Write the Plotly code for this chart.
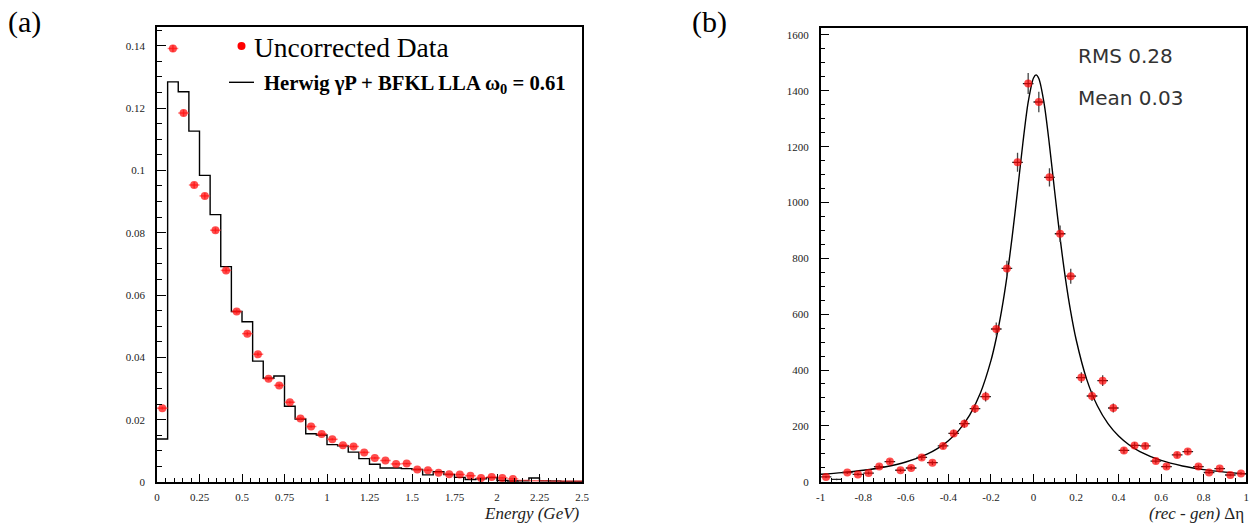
import numpy as np
import plotly.graph_objects as go

# ---------------- Panel (a): energy distribution ----------------
energy_edges = np.linspace(0.0, 2.5, 41)           # 40 bins of 0.0625 GeV
energy_centers = 0.5 * (energy_edges[:-1] + energy_edges[1:])

data_a = [0.0237, 0.1391, 0.1184, 0.0953, 0.0918, 0.0808, 0.0679, 0.0547,
          0.0476, 0.0410, 0.0331, 0.0310, 0.0256, 0.0204, 0.0178, 0.0154,
          0.0137, 0.0118, 0.0114, 0.0095, 0.0077, 0.0069, 0.0058, 0.0059,
          0.0040, 0.0038, 0.0030, 0.0025, 0.0024, 0.0020, 0.0013, 0.0016,
          0.0013, 0.0010, 0.0005, 0.0004, 0.0004, 0.0003, 0.0003, 0.0003]

err_a = [0.00046, 0.00112, 0.00103, 0.00093, 0.00091, 0.00085, 0.00078, 0.00070,
         0.00065, 0.00061, 0.00055, 0.00053, 0.00048, 0.00043, 0.00040, 0.00037,
         0.00035, 0.00033, 0.00032, 0.00029, 0.00026, 0.00025, 0.00023, 0.00023,
         0.00019, 0.00018, 0.00016, 0.00015, 0.00015, 0.00013, 0.00011, 0.00012,
         0.00011, 0.00010, 0.00006, 0.00006, 0.00006, 0.00006, 0.00006, 0.00006]

herwig_a = [0.0138, 0.1284, 0.1252, 0.1126, 0.0984, 0.0858, 0.0691, 0.0547,
            0.0514, 0.0388, 0.0333, 0.0340, 0.0243, 0.0202, 0.0155, 0.0151,
            0.0120, 0.0116, 0.0096, 0.0075, 0.0057, 0.0045, 0.0045, 0.0043,
            0.0040, 0.0023, 0.0033, 0.0024, 0.0015, 0.0008, 0.0010, 0.0014,
            0.0005, 0.0003, 0.0004, 0.0013, 0.0004, 0.0003, 0.0002, 0.0002]

# ---------------- Panel (b): (rec - gen) delta eta ----------------
deta_edges = np.linspace(-1.0, 1.0, 41)            # 40 bins of 0.05
deta_centers = 0.5 * (deta_edges[:-1] + deta_edges[1:])

counts_b = [17, 8, 33, 26, 31, 54, 72, 41, 49, 87,
            68, 128, 173, 208, 262, 305, 547, 764, 1144, 1426,
            1360, 1090, 888, 736, 373, 307, 362, 264, 112, 130,
            128, 74, 54, 96, 108, 54, 33, 47, 24, 29]

fit_x = [-1.0, -0.9, -0.8, -0.7, -0.6, -0.5, -0.45, -0.4, -0.35, -0.3, -0.25,
         -0.2, -0.175, -0.15, -0.125, -0.1, -0.075, -0.05, -0.025, 0.0, 0.012,
         0.025, 0.05, 0.075, 0.1, 0.125, 0.15, 0.175, 0.2, 0.25, 0.3, 0.35,
         0.4, 0.45, 0.5, 0.6, 0.7, 0.8, 0.9, 1.0]
fit_y = [26.6, 32.6, 40.9, 52.8, 70.5, 98.7, 119.4, 147.0, 184.9, 238.4, 316.5,
         433.6, 513.7, 612.7, 733.8, 878.4, 1042.6, 1212.3, 1359.3, 1446.1, 1457.0,
         1444.2, 1354.3, 1205.7, 1035.8, 872.2, 728.5, 608.3, 510.2, 366.6, 272.1, 208.2,
         163.6, 131.6, 107.9, 76.1, 56.4, 43.4, 34.4, 27.9]

x_ticks_b = [-1, -0.8, -0.6, -0.4, -0.2, 0, 0.2, 0.4, 0.6, 0.8, 1]
x_ticktext_b = ["-1", "-0.8", "-0.6", "-0.4", "-0.2", "0", "0.2", "0.4", "0.6", "0.8", "1"]

SERIF = "Liberation Serif, Times New Roman, serif"
SANS = "DejaVu Sans, sans-serif"

# marker visibility (bins with tiny content show error bars only)
size_a = [8 if v >= 0.0008 else 0 for v in data_a]
size_b = [8 if c >= 15 else 0 for c in counts_b]

fig = go.Figure()

# (a) Herwig step histogram
fig.add_trace(go.Scatter(
    x=list(energy_edges), y=list(herwig_a) + [herwig_a[-1]],
    mode="lines", line=dict(color="black", width=1.4, shape="hv"),
    xaxis="x", yaxis="y", showlegend=False, hoverinfo="skip"))

# (a) data error bars (below markers)
fig.add_trace(go.Scatter(
    x=energy_centers, y=data_a, mode="markers",
    marker=dict(color="rgba(0,0,0,0)", size=1),
    error_x=dict(type="constant", value=0.03125, color="rgba(255,60,60,0.7)",
                 thickness=1.5, width=0),
    error_y=dict(type="data", array=err_a, color="rgba(255,60,60,0.7)",
                 thickness=1.5, width=0),
    xaxis="x", yaxis="y", showlegend=False, hoverinfo="skip"))
# (a) data markers
fig.add_trace(go.Scatter(
    x=energy_centers, y=data_a, mode="markers",
    marker=dict(color="#ff0000", size=size_a, line=dict(width=0)),
    xaxis="x", yaxis="y", showlegend=False))

# (b) fit curve
fig.add_trace(go.Scatter(
    x=fit_x, y=fit_y, mode="lines",
    line=dict(color="black", width=1.4, shape="spline", smoothing=0.8),
    xaxis="x2", yaxis="y2", showlegend=False, hoverinfo="skip"))

# (b) error bars
fig.add_trace(go.Scatter(
    x=deta_centers, y=counts_b, mode="markers",
    marker=dict(color="rgba(0,0,0,0)", size=1),
    error_x=dict(type="constant", value=0.025, color="#222222", thickness=1.3, width=0),
    error_y=dict(type="data", array=np.sqrt(counts_b), color="#444444",
                 thickness=1.3, width=0),
    xaxis="x2", yaxis="y2", showlegend=False, hoverinfo="skip"))
# (b) markers
fig.add_trace(go.Scatter(
    x=deta_centers, y=counts_b, mode="markers",
    marker=dict(color="#ff0000", size=size_b, line=dict(width=0)),
    xaxis="x2", yaxis="y2", showlegend=False))

W, H = 1255, 527
def px(x):
    return x / W
def py(y):
    return 1 - y / H

axis_common = dict(showgrid=False, zeroline=False, showline=True, linecolor="black",
                   linewidth=1.5, mirror=True, ticks="inside", tickcolor="black",
                   tickwidth=1, automargin=False,
                   tickfont=dict(family=SERIF, size=11, color="#222"))

fig.update_layout(
    template="none",
    width=W, height=H,
    margin=dict(l=0, r=0, t=0, b=0, pad=0),
    paper_bgcolor="white", plot_bgcolor="white",
    xaxis=dict(domain=[px(157), px(582)], range=[0, 2.5], anchor="y",
               tickmode="linear", tick0=0, dtick=0.25, ticklen=8,
               minor=dict(tickmode="linear", tick0=0, dtick=0.05, ticklen=4,
                          ticks="inside", tickcolor="black"),
               ticklabelstandoff=4, **axis_common),
    yaxis=dict(domain=[py(482), py(27)], range=[0, 0.146], anchor="x",
               tickmode="linear", tick0=0, dtick=0.02, ticklen=9,
               minor=dict(tickmode="linear", tick0=0, dtick=0.005, ticklen=5,
                          ticks="inside", tickcolor="black"),
               ticklabelstandoff=8, **axis_common),
    xaxis2=dict(domain=[px(820.7), px(1246.3)], range=[-1, 1], anchor="y2",
                tickmode="array", tickvals=x_ticks_b, ticktext=x_ticktext_b, ticklen=8,
                minor=dict(tickmode="linear", tick0=-1, dtick=0.05, ticklen=4,
                           ticks="inside", tickcolor="black"),
                ticklabelstandoff=4, **axis_common),
    yaxis2=dict(domain=[py(481.7), py(28)], range=[0, 1625], anchor="x2",
                tickmode="linear", tick0=0, dtick=200, ticklen=9,
                minor=dict(tickmode="linear", tick0=0, dtick=50, ticklen=5,
                           ticks="inside", tickcolor="black"),
                ticklabelstandoff=8, **axis_common),
)

annotations = [
    dict(text="(a)", x=px(6), y=py(22), xanchor="left", yanchor="middle",
         font=dict(family=SERIF, size=30, color="black")),
    dict(text="(b)", x=px(690), y=py(22), xanchor="left", yanchor="middle",
         font=dict(family=SERIF, size=30, color="black")),
    dict(text="Uncorrected Data", x=px(252), y=py(47), xanchor="left", yanchor="middle",
         font=dict(family=SERIF, size=27.5, color="black")),
    dict(text="<b>Herwig γP + BFKL LLA ω<sub>0</sub> = 0.61</b>", x=px(262), y=py(85),
         xanchor="left", yanchor="middle",
         font=dict(family=SERIF, size=20.7, color="black")),
    dict(text="<i>Energy (GeV)</i>", x=px(582), y=py(513), xanchor="right", yanchor="middle",
         font=dict(family=SERIF, size=17, color="#222")),
    dict(text="<i>(rec - gen)</i> Δη", x=px(1246), y=py(513), xanchor="right", yanchor="middle",
         font=dict(family=SERIF, size=17, color="#222")),
    dict(text="RMS 0.28", x=px(1076), y=py(56), xanchor="left", yanchor="middle",
         font=dict(family=SANS, size=20, color="#333")),
    dict(text="Mean 0.03", x=px(1076), y=py(98), xanchor="left", yanchor="middle",
         font=dict(family=SANS, size=20, color="#333")),
]
for a in annotations:
    a.update(xref="paper", yref="paper", showarrow=False)
fig.update_layout(annotations=annotations)

# legend symbols (paper coordinates)
fig.add_shape(type="circle", xref="paper", yref="paper",
              x0=px(237.5), x1=px(245.5), y0=py(50), y1=py(42),
              fillcolor="#ff0000", line=dict(width=0))
fig.add_shape(type="line", xref="paper", yref="paper",
              x0=px(229), x1=px(254), y0=py(82.3), y1=py(82.3),
              line=dict(color="black", width=1.4))

fig.write_html("out.html")
